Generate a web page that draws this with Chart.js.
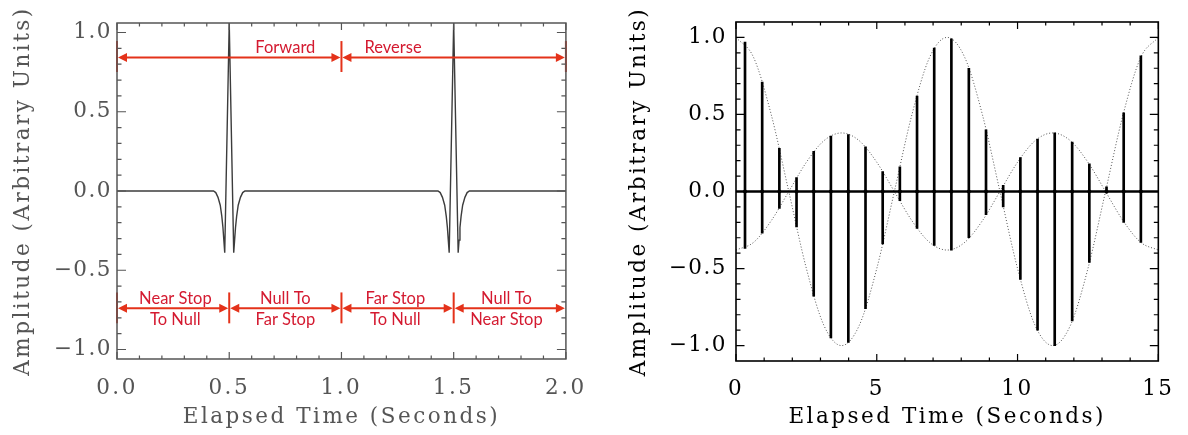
<!DOCTYPE html>
<html><head><meta charset="utf-8">
<script src="https://cdn.jsdelivr.net/npm/chart.js@4.4.1/dist/chart.umd.min.js"></script>
<style>
html,body{margin:0;padding:0;background:#fff;}
#wrap{position:relative;width:1188px;height:435px;overflow:hidden;background:#fff;}
.box{position:absolute;top:0;height:435px;}
</style></head><body>
<div id="wrap">
  <div class="box" style="left:0;width:600px"><canvas id="c1" width="600" height="435"></canvas></div>
  <div class="box" style="left:600px;width:588px"><canvas id="c2" width="588" height="435"></canvas></div>
</div>
<script>
// ---------- LEFT PANEL DATA ----------
const pulseTime = [0.000, 0.430, 0.440, 0.450, 0.460, 0.467, 0.472, 0.476, 0.480, 0.500, 0.520, 0.524, 0.528, 0.533, 0.540, 0.550, 0.560, 0.570,
                   1.430, 1.440, 1.450, 1.460, 1.467, 1.472, 1.476, 1.480, 1.500, 1.520, 1.524, 1.528, 1.533, 1.540, 1.550, 1.560, 1.570, 2.000];
const pulseAmp  = [0.000, 0.000, -0.010, -0.040, -0.090, -0.160, -0.230, -0.310, -0.390, 1.060, -0.390, -0.310, -0.230, -0.160, -0.090, -0.040, -0.010, 0.000,
                   0.000, -0.010, -0.040, -0.090, -0.160, -0.230, -0.310, -0.390, 1.060, -0.390, -0.310, -0.230, -0.160, -0.090, -0.040, -0.010, 0.000, 0.000];
const leftXTicks = [0.0, 0.5, 1.0, 1.5, 2.0];
const leftXTickLabels = ['0.0', '0.5', '1.0', '1.5', '2.0'];
const leftYTicks = [-1.0, -0.5, 0.0, 0.5, 1.0];
const leftYTickLabels = ['\u22121.0', '\u22120.5', '0.0', '0.5', '1.0'];
const leftXMinor = [0.1,0.2,0.3,0.4,0.6,0.7,0.8,0.9,1.1,1.2,1.3,1.4,1.6,1.7,1.8,1.9];
const leftYMinor = [-0.9,-0.8,-0.7,-0.6,-0.4,-0.3,-0.2,-0.1,0.1,0.2,0.3,0.4,0.6,0.7,0.8,0.9];
// annotation rows (red arrows)
const topLabels = ['Forward', 'Reverse'];
const topLabelX = [0.75, 1.23];
const topSegments = [[0, 1], [1, 2]];
const topBars = [0, 1, 2];
const bottomLabels1 = ['Near Stop', 'Null To', 'Far Stop', 'Null To'];
const bottomLabels2 = ['To Null', 'Far Stop', 'To Null', 'Near Stop'];
const bottomLabelX = [0.26, 0.75, 1.24, 1.735];
const bottomSegments = [[0, 0.5], [0.5, 1], [1, 1.5], [1.5, 2]];
const bottomBars = [0, 0.5, 1, 1.5];

// ---------- RIGHT PANEL DATA ----------
const stemTime = [0.32, 0.93, 1.54, 2.15, 2.76, 3.37, 3.99, 4.60, 5.21, 5.82, 6.43, 7.04,
                  7.65, 8.27, 8.88, 9.49, 10.10, 10.71, 11.32, 11.94, 12.55, 13.16, 13.77, 14.38];
const stemTop    = [0.97, 0.71, 0.28, 0.09, 0.26, 0.36, 0.37, 0.29, 0.13, 0.16, 0.62, 0.93,
                    0.99, 0.80, 0.40, 0.04, 0.22, 0.34, 0.38, 0.32, 0.18, 0.03, 0.51, 0.88];
const stemBottom = [-0.37, -0.27, -0.11, -0.23, -0.68, -0.95, -0.98, -0.76, -0.34, -0.06, -0.24, -0.35,
                    -0.38, -0.30, -0.15, -0.10, -0.57, -0.90, -1.00, -0.84, -0.46, -0.01, -0.20, -0.33];
const envTime  = [0, 0.625, 1.25, 1.875, 2.5, 3.125, 3.75, 4.375, 5.0, 5.625, 6.25, 6.875, 7.5,
                  8.125, 8.75, 9.375, 10.0, 10.625, 11.25, 11.875, 12.5, 13.125, 13.75, 14.375, 15.0];
const envUpper = [1.00, 0.87, 0.50, 0.00, -0.50, -0.87, -1.00, -0.87, -0.50, 0.00, 0.50, 0.87, 1.00,
                  0.87, 0.50, 0.00, -0.50, -0.87, -1.00, -0.87, -0.50, 0.00, 0.50, 0.87, 1.00];
const envLower = [-0.38, -0.33, -0.19, 0.00, 0.19, 0.33, 0.38, 0.33, 0.19, 0.00, -0.19, -0.33, -0.38,
                  -0.33, -0.19, 0.00, 0.19, 0.33, 0.38, 0.33, 0.19, 0.00, -0.19, -0.33, -0.38];
const baseTime = [0, 15];
const baseAmp = [0, 0];
const rightXTicks = [0, 5, 10, 15];
const rightXTickLabels = ['0', '5', '10', '15'];
const rightYTicks = [-1.0, -0.5, 0.0, 0.5, 1.0];
const rightYTickLabels = ['\u22121.0', '\u22120.5', '0.0', '0.5', '1.0'];
const rightXMinor = [1,2,3,4,6,7,8,9,11,12,13,14];
const rightYMinor = [-1.0,-0.9,-0.8,-0.7,-0.6,-0.4,-0.3,-0.2,-0.1,0.1,0.2,0.3,0.4,0.6,0.7,0.8,0.9];

// ---------- helpers ----------
const SERIF = "'DejaVu Serif', 'Liberation Serif', serif";
Chart.defaults.font.family = SERIF;
Chart.defaults.animation = false;

function spacingPlugin(titleSp, tickSp) {
  return {
    id: 'spacing',
    beforeDraw(chart) { chart.ctx.letterSpacing = titleSp; },
    afterDatasetsDraw(chart) { chart.ctx.letterSpacing = tickSp; }
  };
}

function framePlugin(cfg) {
  return {
    id: 'frame',
    afterDraw(chart) {
      const {ctx, chartArea: a, scales: {x, y}} = chart;
      ctx.save();
      ctx.strokeStyle = cfg.color;
      ctx.lineWidth = cfg.tickWidth;
      ctx.beginPath();
      const xt = (vals, len) => vals.forEach(v => {
        const p = x.getPixelForValue(v);
        ctx.moveTo(p, a.bottom); ctx.lineTo(p, a.bottom - len);
        ctx.moveTo(p, a.top); ctx.lineTo(p, a.top + len);
      });
      const yt = (vals, len) => vals.forEach(v => {
        const p = y.getPixelForValue(v);
        ctx.moveTo(a.left, p); ctx.lineTo(a.left + len, p);
        ctx.moveTo(a.right, p); ctx.lineTo(a.right - len, p);
      });
      xt(cfg.xMajor, cfg.xMajorLen); xt(cfg.xMinor, cfg.xMinorLen);
      yt(cfg.yMajor, cfg.yMajorLen); yt(cfg.yMinor, cfg.yMinorLen);
      ctx.stroke();
      ctx.lineWidth = cfg.boxWidth;
      ctx.strokeRect(a.left, a.top, a.right - a.left, a.bottom - a.top);
      ctx.restore();
    }
  };
}

function fixedTicks(values, labels) {
  return {
    afterBuildTicks: s => { s.ticks = values.map(v => ({value: v})); },
    callback: (v) => { const i = values.findIndex(t => Math.abs(t - v) < 1e-9); return i >= 0 ? labels[i] : ''; }
  };
}

// ---------- LEFT CHART ----------
const RED_LINE = 'rgb(228,50,26)';
const RED_TEXT = 'rgb(212,26,48)';
const annotPlugin = {
  id: 'annot',
  afterDatasetsDraw(chart) {
    const {ctx, scales: {x, y}} = chart;
    ctx.save();
    ctx.letterSpacing = '0px';
    ctx.strokeStyle = RED_LINE; ctx.fillStyle = RED_LINE;
    ctx.lineWidth = 2;
    const head = 9, half = 4.5;
    const arrow = (a, b, yv) => {
      const xa = x.getPixelForValue(a) + 1, xb = x.getPixelForValue(b) - 1, py = y.getPixelForValue(yv);
      ctx.beginPath(); ctx.moveTo(xa + head - 1, py); ctx.lineTo(xb - head + 1, py); ctx.stroke();
      ctx.beginPath(); ctx.moveTo(xa, py); ctx.lineTo(xa + head, py - half); ctx.lineTo(xa + head, py + half); ctx.closePath(); ctx.fill();
      ctx.beginPath(); ctx.moveTo(xb, py); ctx.lineTo(xb - head, py - half); ctx.lineTo(xb - head, py + half); ctx.closePath(); ctx.fill();
    };
    const bar = (xv, y0, y1) => {
      const px = x.getPixelForValue(xv);
      ctx.beginPath(); ctx.moveTo(px, y.getPixelForValue(y0)); ctx.lineTo(px, y.getPixelForValue(y1)); ctx.stroke();
    };
    topSegments.forEach(s => arrow(s[0], s[1], 0.843));
    topBars.forEach(b => bar(b, 0.946, 0.751));
    bottomSegments.forEach(s => arrow(s[0], s[1], -0.74));
    bottomBars.forEach(b => bar(b, -0.64, -0.835));
    ctx.fillStyle = RED_TEXT;
    ctx.font = "16.5px Lato, 'Open Sans', sans-serif";
    ctx.textAlign = 'center'; ctx.textBaseline = 'middle';
    topLabels.forEach((t, i) => ctx.fillText(t, x.getPixelForValue(topLabelX[i]), y.getPixelForValue(0.907)));
    bottomLabels1.forEach((t, i) => ctx.fillText(t, x.getPixelForValue(bottomLabelX[i]), y.getPixelForValue(-0.677)));
    bottomLabels2.forEach((t, i) => ctx.fillText(t, x.getPixelForValue(bottomLabelX[i]), y.getPixelForValue(-0.814)));
    ctx.restore();
  }
};

const LGRAY = '#555';
new Chart(document.getElementById('c1'), {
  type: 'line',
  data: {
    datasets: [{
      data: pulseTime.map((t, i) => ({x: t, y: pulseAmp[i]})),
      borderColor: '#3c3c3c', borderWidth: 1.4, pointRadius: 0, tension: 0, fill: false
    }]
  },
  options: {
    responsive: false,
    layout: {padding: {top: 23, right: 28, left: 0, bottom: 0}},
    plugins: {legend: {display: false}, tooltip: {enabled: false}},
    scales: {
      x: {
        type: 'linear', min: 0, max: 2,
        grid: {display: false, drawTicks: false}, border: {display: false},
        afterBuildTicks: fixedTicks(leftXTicks, leftXTickLabels).afterBuildTicks,
        afterFit: s => { s.height = 76; },
        ticks: {autoSkip: false, maxRotation: 0, padding: 17, color: LGRAY, font: {size: 21.5},
                callback: fixedTicks(leftXTicks, leftXTickLabels).callback},
        title: {display: true, text: 'Elapsed Time (Seconds)', color: LGRAY, font: {size: 21.5}, padding: {top: 0, bottom: 5}}
      },
      y: {
        type: 'linear', min: -1.06, max: 1.06,
        grid: {display: false, drawTicks: false}, border: {display: false},
        afterBuildTicks: fixedTicks(leftYTicks, leftYTickLabels).afterBuildTicks,
        afterFit: s => { s.width = 117; },
        ticks: {autoSkip: false, padding: 5, color: LGRAY, font: {size: 21.5}, z: 1,
                callback: fixedTicks(leftYTicks, leftYTickLabels).callback},
        title: {display: true, text: 'Amplitude (Arbitrary Units)', color: LGRAY, font: {size: 21.5}, padding: {top: 11, bottom: 0}}
      }
    }
  },
  plugins: [spacingPlugin('2.5px', '1.5px'), annotPlugin,
    framePlugin({color: LGRAY, tickWidth: 1.2, boxWidth: 1.5,
      xMajor: leftXTicks, xMinor: leftXMinor, xMajorLen: 7, xMinorLen: 3.5,
      yMajor: leftYTicks, yMinor: leftYMinor, yMajorLen: 9, yMinorLen: 4.5})]
});

// ---------- RIGHT CHART ----------
new Chart(document.getElementById('c2'), {
  data: {
    datasets: [
      {type: 'line', data: envTime.map((t, i) => ({x: t, y: envUpper[i]})), borderColor: '#555', borderWidth: 1,
       borderDash: [1, 2], pointRadius: 0, cubicInterpolationMode: 'monotone', fill: false, order: 3},
      {type: 'line', data: envTime.map((t, i) => ({x: t, y: envLower[i]})), borderColor: '#555', borderWidth: 1,
       borderDash: [1, 2], pointRadius: 0, cubicInterpolationMode: 'monotone', fill: false, order: 3},
      {type: 'bar', data: stemTime.map((t, i) => ({x: t, y: [stemBottom[i], stemTop[i]]})),
       backgroundColor: '#000', barThickness: 2, borderWidth: 0, order: 2},
      {type: 'line', data: baseTime.map((t, i) => ({x: t, y: baseAmp[i]})), borderColor: '#000', borderWidth: 2.5,
       pointRadius: 0, fill: false, order: 1},
      {type: 'scatter', data: stemTime.map(t => ({x: t, y: 0})), pointRadius: 2, pointBackgroundColor: '#000',
       pointBorderWidth: 0, showLine: false, order: 0}
    ]
  },
  options: {
    responsive: false,
    layout: {padding: {top: 22, right: 23, left: 0, bottom: 0}},
    plugins: {legend: {display: false}, tooltip: {enabled: false}},
    scales: {
      x: {
        type: 'linear', min: 0, max: 15, offset: false,
        grid: {display: false, drawTicks: false, offset: false}, border: {display: false},
        afterBuildTicks: fixedTicks(rightXTicks, rightXTickLabels).afterBuildTicks,
        afterFit: s => { s.height = 74; },
        ticks: {autoSkip: false, maxRotation: 0, padding: 16, color: '#000', font: {size: 21.5},
                callback: fixedTicks(rightXTicks, rightXTickLabels).callback},
        title: {display: true, text: 'Elapsed Time (Seconds)', color: '#000', font: {size: 21.5}, padding: {top: 0, bottom: 5}}
      },
      y: {
        type: 'linear', min: -1.1, max: 1.1,
        grid: {display: false, drawTicks: false}, border: {display: false},
        afterBuildTicks: fixedTicks(rightYTicks, rightYTickLabels).afterBuildTicks,
        afterFit: s => { s.width = 136; },
        ticks: {autoSkip: false, padding: 9, color: '#000', font: {size: 21.5}, z: 1,
                callback: fixedTicks(rightYTicks, rightYTickLabels).callback},
        title: {display: true, text: 'Amplitude (Arbitrary Units)', color: '#000', font: {size: 21.5}, padding: {top: 27, bottom: 0}}
      }
    }
  },
  plugins: [spacingPlugin('2.5px', '1.5px'),
    framePlugin({color: '#000', tickWidth: 1.2, boxWidth: 1.6,
      xMajor: rightXTicks, xMinor: rightXMinor, xMajorLen: 7, xMinorLen: 3.5,
      yMajor: rightYTicks, yMinor: rightYMinor, yMajorLen: 8.5, yMinorLen: 4.5})]
});
</script>
</body></html>
